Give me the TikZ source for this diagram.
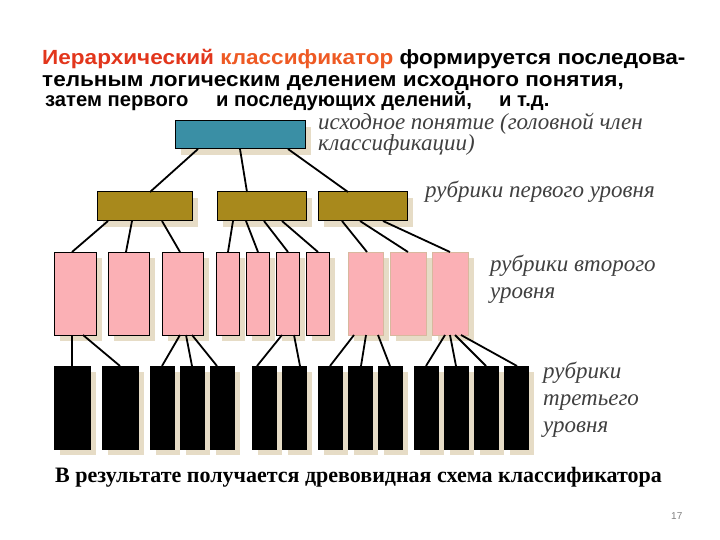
\documentclass[tikz,border=0pt]{standalone}
\usepackage{fontspec}
\setmainfont{Liberation Serif}
\newfontfamily\arialf{Liberation Sans}
\usetikzlibrary{shadows}
\definecolor{teal0}{HTML}{3A8FA5}
\definecolor{olive0}{HTML}{A8891C}
\definecolor{pink0}{HTML}{FBB0B5}
\definecolor{tanb}{HTML}{D8B89E}
\definecolor{shad}{HTML}{E6DCC6}
\definecolor{lblgray}{HTML}{404040}
\definecolor{redt}{HTML}{E2361C}
\definecolor{oranget}{HTML}{EE5A24}
\newcommand\bx[6]{\node[#2, minimum width={#5-#3}, minimum height={#6-#4}] (#1) at ({(#3+#5)/2},{(#4+#6)/2}) {};}
\newcommand\cn[4]{\draw[conn] (#2,0 |- #1.south) -- (#4,0 |- #3.north);}
\newcommand\widetxt[1]{\scalebox{1.1}[1]{#1}}
\tikzset{
  boxbase/.style={inner sep=0pt, outer sep=0pt, line width=1pt,
    drop shadow={shadow xshift=6pt, shadow yshift=-6pt, fill=shad, opacity=1}},
  rootbox/.style={boxbase, draw=black, fill=teal0},
  onebox/.style={boxbase, draw=black, fill=olive0},
  twobox/.style={boxbase, draw=black, fill=pink0},
  twoboxb/.style={boxbase, draw=tanb, fill=pink0},
  threebox/.style={boxbase, draw=black, fill=black},
  conn/.style={draw=black, line width=1.8pt},
  titletxt/.style={anchor=base west, inner sep=0pt, font=\arialf\bfseries\fontsize{20.5}{22}\selectfont},
  subtxt/.style={anchor=base west, inner sep=0pt, font=\arialf\bfseries\fontsize{20.2}{22}\selectfont},
  lbl/.style={anchor=base west, inner sep=0pt, text=lblgray, align=left, font=\itshape\fontsize{23}{27}\selectfont},
}
\begin{document}
\begin{tikzpicture}[x=1pt,y=-1pt]
\useasboundingbox (0,0) rectangle (720,540);
% title
\node[titletxt] (t1) at (42,65) {\widetxt{\textcolor{redt}{Иерархический} \textcolor{oranget}{классификатор} формируется последова-}};
\node[titletxt] (t2) at (42,87) {\widetxt{тельным логическим делением исходного понятия,}};
\node[subtxt] (t3a) at (45,107) {затем первого};
\node[subtxt] (t3b) at (216,107) {и последующих делений,};
\node[subtxt] (t3c) at (499,107) {и т.д.};
% level 0
\bx{r}{rootbox}{175}{121}{305}{149}
% level 1
\bx{a}{onebox}{97}{192}{192}{221}
\bx{b}{onebox}{217}{192}{306}{221}
\bx{c}{onebox}{318}{192}{407}{221}
% level 2
\bx{p1}{twobox}{54}{252}{96}{335}
\bx{p2}{twobox}{108}{252}{149}{335}
\bx{p3}{twobox}{162}{252}{203}{335}
\bx{p4}{twobox}{216}{252}{239}{335}
\bx{p5}{twobox}{246}{252}{269}{335}
\bx{p6}{twobox}{276}{252}{299}{335}
\bx{p7}{twobox}{306}{252}{329}{335}
\bx{p8}{twoboxb}{348}{252}{383}{335}
\bx{p9}{twoboxb}{390}{252}{426}{335}
\bx{p10}{twoboxb}{432}{252}{468}{335}
% level 3
\bx{k1}{threebox}{54}{366}{90}{449}
\bx{k2}{threebox}{102}{366}{138}{449}
\bx{k3}{threebox}{150}{366}{174}{449}
\bx{k4}{threebox}{180}{366}{204}{449}
\bx{k5}{threebox}{210}{366}{234}{449}
\bx{k6}{threebox}{252}{366}{276}{449}
\bx{k7}{threebox}{282}{366}{306}{449}
\bx{k8}{threebox}{318}{366}{342}{449}
\bx{k9}{threebox}{348}{366}{372}{449}
\bx{k10}{threebox}{378}{366}{402}{449}
\bx{k11}{threebox}{414}{366}{438}{449}
\bx{k12}{threebox}{444}{366}{468}{449}
\bx{k13}{threebox}{474}{366}{498}{449}
\bx{k14}{threebox}{504}{366}{528}{449}
% connectors 0-1
\cn{r}{198}{a}{150}
\cn{r}{240}{b}{247}
\cn{r}{288}{c}{348}
% connectors 1-2
\cn{a}{108}{p1}{72}
\cn{a}{132}{p2}{126}
\cn{a}{162}{p3}{180}
\cn{b}{233}{p4}{228}
\cn{b}{246}{p5}{258}
\cn{b}{264}{p6}{288}
\cn{b}{282}{p7}{318}
\cn{c}{342}{p8}{367}
\cn{c}{360}{p9}{408}
\cn{c}{383}{p10}{450}
% connectors 2-3
\cn{p1}{72}{k1}{72}
\cn{p1}{83}{k2}{120}
\cn{p3}{180}{k3}{162}
\cn{p3}{186}{k4}{192}
\cn{p3}{192}{k5}{217}
\cn{p6}{282}{k6}{257}
\cn{p6}{294}{k7}{300}
\cn{p8}{354}{k8}{330}
\cn{p8}{366}{k9}{361}
\cn{p8}{378}{k10}{390}
\cn{p10}{445}{k11}{426}
\cn{p10}{450}{k12}{456}
\cn{p10}{455}{k13}{486}
\cn{p10}{461}{k14}{517}
% labels (anchored at the baseline of the last line)
\node[lbl, font=\itshape\fontsize{23}{20}\selectfont] (l0) at (318,151) {исходное понятие (головной член\\классификации)};
\node[lbl] (l1) at (425,197) {рубрики первого уровня};
\node[lbl] (l2) at (490,298) {рубрики второго\\уровня};
\node[lbl] (l3) at (543,432) {рубрики\\третьего\\уровня};
% bottom
\node[anchor=base west, inner sep=0pt, font=\bfseries\fontsize{22}{24}\selectfont] (bt) at (55,482) {В результате получается древовидная схема классификатора};
\node[anchor=base west, inner sep=0pt, text=gray, font=\arialf\fontsize{10}{12}\selectfont] (pg) at (671,519) {17};
\end{tikzpicture}
\end{document}
